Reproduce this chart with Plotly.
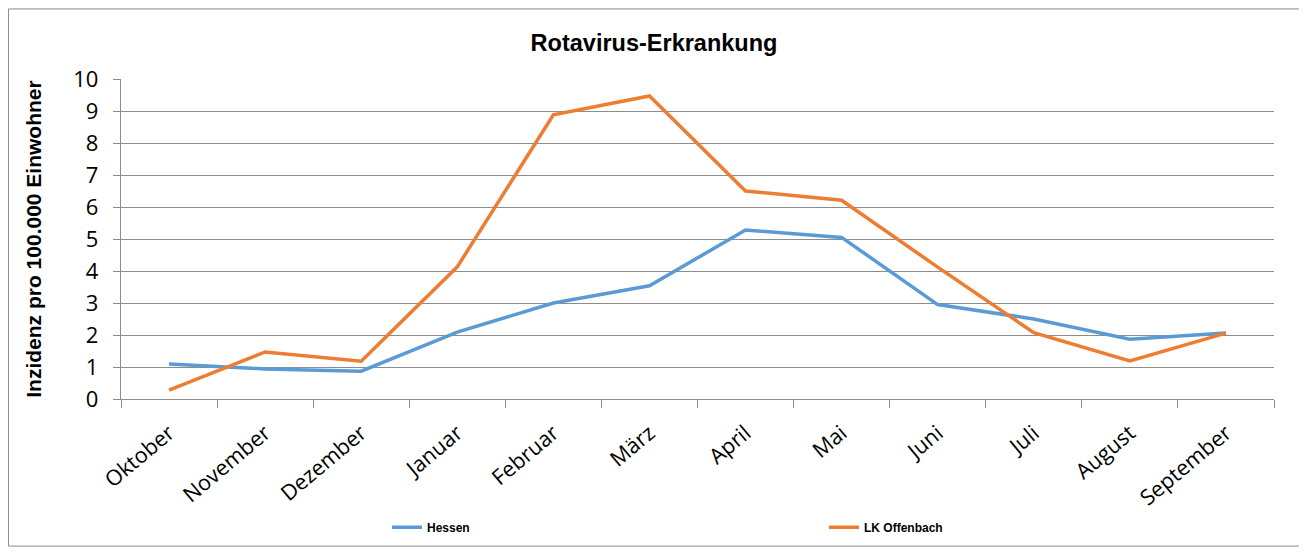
import plotly.graph_objects as go

months = ["Oktober", "November", "Dezember", "Januar", "Februar", "März",
          "April", "Mai", "Juni", "Juli", "August", "September"]
hessen = [1.09, 0.94, 0.87, 2.09, 3.0, 3.54, 5.28, 5.05, 2.95, 2.5, 1.87, 2.06]
offenbach = [0.28, 1.47, 1.18, 4.13, 8.88, 9.47, 6.5, 6.21, 4.12, 2.07, 1.19, 2.06]
y_ticks = list(range(0, 11))

# page has an 8px body margin; figure sized so it fits the 1307x554 window
OFF = 8
W, H = 1299, 546
L, R, T, B = 113, 33, 71, 153
pw, ph = W - L - R, H - T - B


def px_x(p):  # page pixel -> paper x
    return (p - OFF - L) / pw


def px_y(p):  # page pixel -> paper y
    return (H - B - (p - OFF)) / ph


fig = go.Figure()
fig.add_trace(go.Scatter(x=months, y=hessen, mode="lines", name="<b>Hessen</b>",
                         line=dict(color="#5B9BD5", width=3.5), legend="legend"))
fig.add_trace(go.Scatter(x=months, y=offenbach, mode="lines", name="<b>LK Offenbach</b>",
                         line=dict(color="#ED7D31", width=3.5), legend="legend2"))

fig.add_shape(type="rect", xref="paper", yref="paper",
              x0=px_x(8.5), x1=px_x(1302), y0=px_y(549), y1=px_y(8.5),
              line=dict(color="#8c8c8c", width=1), fillcolor="rgba(0,0,0,0)", layer="below")

legend_font = dict(family="Liberation Sans, Arial", size=12, color="black")

fig.update_layout(
    width=W, height=H,
    margin=dict(l=L, r=R, t=T, b=B),
    paper_bgcolor="white", plot_bgcolor="white",
    title=dict(text="<b>Rotavirus-Erkrankung</b>", x=(654 - OFF) / W, xref="container",
               xanchor="center", y=1 - (43 - OFF) / H, yref="container", yanchor="middle",
               font=dict(family="Liberation Sans, Arial", size=23.5, color="black")),
    showlegend=True,
    legend=dict(orientation="h", x=px_x(387), y=px_y(530), xanchor="left", yanchor="middle",
                font=legend_font, itemwidth=30, bgcolor="rgba(0,0,0,0)"),
    legend2=dict(orientation="h", x=px_x(824), y=px_y(530), xanchor="left", yanchor="middle",
                 font=legend_font, itemwidth=30, bgcolor="rgba(0,0,0,0)"),
    font=dict(family="Open Sans", color="black"),
)

fig.update_xaxes(
    type="category", range=[-0.5, 11.5], tickson="boundaries", automargin=False,
    ticks="outside", ticklen=8, tickcolor="#8c8c8c", tickwidth=1.3,
    showline=True, linecolor="#8c8c8c", linewidth=1.3,
    showgrid=False, tickangle=-40, ticklabelstandoff=12,
    tickfont=dict(family="Open Sans", size=21.5, color="black"),
)
fig.update_yaxes(
    range=[0, 10], tickvals=y_ticks, ticktext=[str(v) for v in y_ticks], automargin=False,
    ticks="outside", ticklen=7, tickcolor="#8c8c8c", tickwidth=1.3,
    showline=True, linecolor="#8c8c8c", linewidth=1.3, ticklabelstandoff=10,
    showgrid=True, gridcolor="#8c8c8c", gridwidth=1.3, zeroline=False,
    tickfont=dict(family="Open Sans", size=22, color="black"),
    title=dict(text="<b>Inzidenz pro 100.000 Einwohner</b>", standoff=25,
               font=dict(family="Liberation Sans, Arial", size=21, color="black")),
)

fig.write_html("out.html")
